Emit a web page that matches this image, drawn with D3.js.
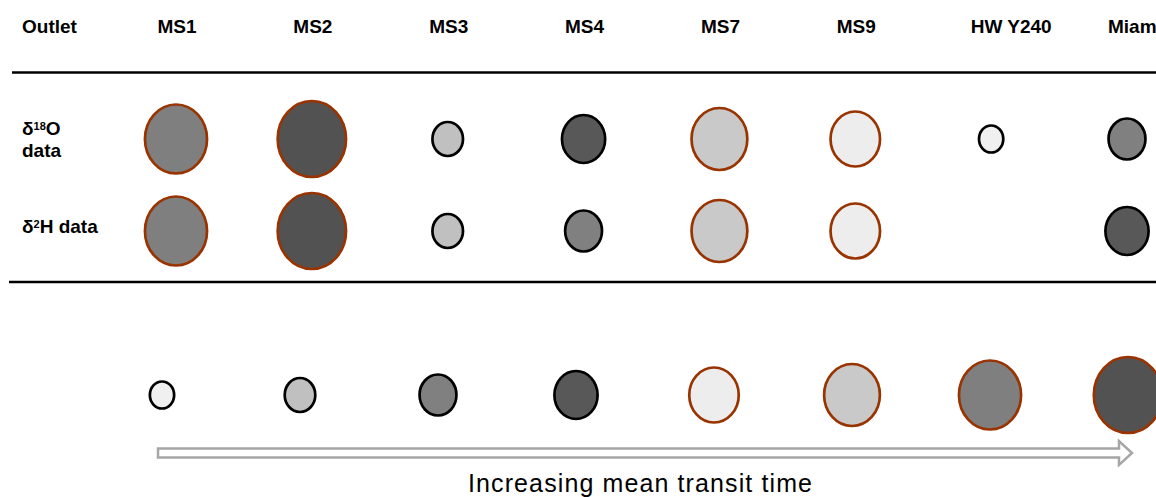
<!DOCTYPE html>
<html>
<head>
<meta charset="utf-8">
<script src="https://cdn.jsdelivr.net/npm/d3@7/dist/d3.min.js"></script>
<style>
  html, body { margin: 0; padding: 0; background: #fff; }
  svg { display: block; }
  text { font-family: "Liberation Sans", Arial, sans-serif; fill: #000; }
</style>
</head>
<body>
<script>
// ---- data ----
const outlets = ["MS1", "MS2", "MS3", "MS4", "MS7", "MS9", "HWY240", "Miami"];
const outletLabels = ["MS1", "MS2", "MS3", "MS4", "MS7", "MS9", "HW Y240", "Miami"];
// transit-time class (1 = shortest, 8 = longest) per outlet
const rankO18 = [7, 8, 2, 4, 6, 5, 1, 3];
const rankH2 = [7, 8, 2, 3, 6, 5, null, 4];
const legendRanks = [1, 2, 3, 4, 5, 6, 7, 8];
const legendTitle = "Increasing mean  transit time";

// ---- layout ----
const W = 1156, H = 497;
const svg = d3.select("body").append("svg").attr("width", W).attr("height", H);

const x = d3.scalePoint().domain(outlets).range([176, 1127]);
const xLegend = d3.scalePoint().domain(legendRanks).range([162, 1128]);
const rowY = d3.scalePoint().domain(["o18", "h2"]).range([139, 231]);
const legendY = 395;

const ry = d3.scaleLinear().domain([1, 8]).range([13.5, 38]);
const aspect = 0.9;
const lightFills = ["#f0f0f0", "#c0c0c0", "#808080", "#585858"];
const darkFills = ["#ededed", "#c9c9c9", "#7f7f7f", "#525252"];
const fillOf = r => (r > 4 ? darkFills : lightFills)[(r - 1) % 4];
const strokeOf = r => (r > 4 ? "#993300" : "#000000");

// ---- header ----
svg.append("text").attr("x", 22).attr("y", 33)
  .attr("font-size", 19).attr("font-weight", "bold").text("Outlet");

svg.selectAll("text.hdr").data(outlets).join("text")
  .attr("class", "hdr")
  .attr("x", d => x(d))
  .attr("y", 33)
  .attr("text-anchor", d => d === "Miami" ? "start" : "middle")
  .attr("dx", d => d === "HWY240" ? 20 : (d === "Miami" ? -19 : 1))
  .attr("font-size", 19).attr("font-weight", "bold")
  .text((d, i) => outletLabels[i]);

// rules
svg.append("line").attr("x1", 12).attr("x2", W).attr("y1", 72.5).attr("y2", 72.5)
  .attr("stroke", "#000").attr("stroke-width", 2.6);
svg.append("line").attr("x1", 9).attr("x2", W).attr("y1", 282).attr("y2", 282)
  .attr("stroke", "#000").attr("stroke-width", 2.6);

// row labels
const lab1 = svg.append("text").attr("x", 22).attr("y", 135)
  .attr("font-size", 19).attr("font-weight", "bold");
lab1.append("tspan").text("δ");
lab1.append("tspan").attr("font-size", 11).attr("dy", -5).text("18");
lab1.append("tspan").attr("dy", 5).text("O");
svg.append("text").attr("x", 22).attr("y", 157)
  .attr("font-size", 19).attr("font-weight", "bold").text("data");

const lab2 = svg.append("text").attr("x", 22).attr("y", 233)
  .attr("font-size", 19).attr("font-weight", "bold");
lab2.append("tspan").text("δ");
lab2.append("tspan").attr("font-size", 11).attr("dy", -5).text("2");
lab2.append("tspan").attr("dy", 5).text("H data");

// ---- circles ----
function drawRow(ranks, key) {
  const data = outlets.map((o, i) => ({ o, r: ranks[i] })).filter(d => d.r != null);
  svg.append("g").selectAll("ellipse").data(data).join("ellipse")
    .attr("cx", d => x(d.o))
    .attr("cy", rowY(key))
    .attr("rx", d => ry(d.r) * aspect)
    .attr("ry", d => ry(d.r))
    .attr("fill", d => fillOf(d.r))
    .attr("stroke", d => strokeOf(d.r))
    .attr("stroke-width", 2.7);
}
drawRow(rankO18, "o18");
drawRow(rankH2, "h2");

// legend circles
svg.append("g").selectAll("ellipse").data(legendRanks).join("ellipse")
  .attr("cx", d => xLegend(d))
  .attr("cy", legendY)
  .attr("rx", d => ry(d) * aspect)
  .attr("ry", d => ry(d))
  .attr("fill", d => fillOf(d))
  .attr("stroke", d => strokeOf(d))
  .attr("stroke-width", 2.7);

// hollow arrow
const ax0 = 158, ax1 = 1119, tip = 1132, yT = 448.5, yB = 457.5, hT = 441, hB = 465;
svg.append("path")
  .attr("d", `M${ax0},${yT} L${ax1},${yT} L${ax1},${hT} L${tip},${(yT + yB) / 2} L${ax1},${hB} L${ax1},${yB} L${ax0},${yB} Z`)
  .attr("fill", "#fff").attr("stroke", "#a6a6a6").attr("stroke-width", 2.5);

svg.append("text").attr("x", 468).attr("y", 492)
  .attr("font-size", 25)
  .attr("textLength", 344).attr("lengthAdjust", "spacing")
  .text(legendTitle);
</script>
</body>
</html>
